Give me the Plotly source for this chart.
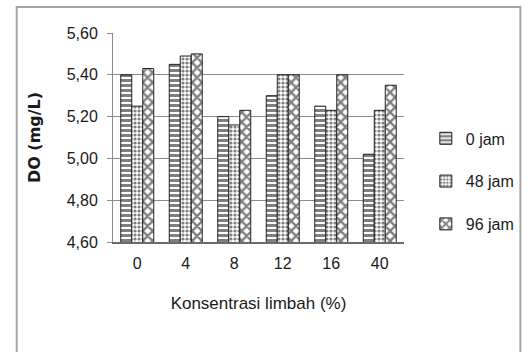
import plotly.graph_objects as go

# Dissolved oxygen per effluent concentration, measured at three times
categories = ["0", "4", "8", "12", "16", "40"]
series_names = ["0 jam", "48 jam", "96 jam"]
do_0_jam = [5.40, 5.45, 5.20, 5.30, 5.25, 5.02]
do_48_jam = [5.25, 5.49, 5.16, 5.40, 5.23, 5.23]
do_96_jam = [5.43, 5.50, 5.23, 5.40, 5.40, 5.35]
y_ticks = [4.60, 4.80, 5.00, 5.20, 5.40, 5.60]

series_values = [do_0_jam, do_48_jam, do_96_jam]
patterns = [
    dict(shape="-", size=5, solidity=0.6, fgcolor="#000000", bgcolor="#ffffff"),
    dict(shape=".", size=4, solidity=0.5, fgcolor="#000000", bgcolor="#ffffff"),
    dict(shape="x", size=7, solidity=0.55, fgcolor="#000000", bgcolor="#ffffff"),
]

TEXT_FONT = "Liberation Sans, Arial, sans-serif"

fig = go.Figure()
for name, vals, pat in zip(series_names, series_values, patterns):
    fig.add_trace(go.Bar(
        x=categories,
        y=vals,
        name=name,
        legendgroup=name,
        marker=dict(color="#ffffff", pattern=pat,
                    line=dict(color="#222222", width=1)),
    ))

fig.update_layout(
    width=532, height=352,
    margin=dict(l=113, r=111, t=33, b=110),
    paper_bgcolor="#ffffff", plot_bgcolor="#ffffff",
    barmode="group", bargap=0.32, bargroupgap=0.0,
    separators=",.",
    font=dict(family=TEXT_FONT, size=16, color="#1a1a1a"),
    showlegend=True,
    legend=dict(x=1.075, xanchor="left", y=0.29, yanchor="middle",
                font=dict(family=TEXT_FONT, size=16, color="#1a1a1a"),
                tracegroupgap=19, bgcolor="rgba(0,0,0,0)"),
    xaxis=dict(
        type="category", categoryorder="array", categoryarray=categories,
        showgrid=False, showline=True, linecolor="#6b6b6b", linewidth=2,
        ticks="", ticklabelstandoff=6,
        tickfont=dict(family=TEXT_FONT, size=16, color="#1a1a1a"),
        title=dict(text="Konsentrasi limbah (%)", standoff=26,
                   font=dict(family=TEXT_FONT, size=17, color="#1a1a1a")),
    ),
    yaxis=dict(
        range=[4.60, 5.60],
        tickvals=y_ticks,
        ticktext=[f"{t:.2f}".replace(".", ",") for t in y_ticks],
        showgrid=True, gridcolor="#8c8c8c", gridwidth=1,
        showline=True, linecolor="#8c8c8c", linewidth=1,
        ticks="outside", ticklen=5, tickcolor="#8c8c8c",
        ticklabelstandoff=6,
        zeroline=False,
        tickfont=dict(family=TEXT_FONT, size=16, color="#1a1a1a"),
        title=dict(text="<b>DO (mg/L)</b>", standoff=22,
                   font=dict(family="DejaVu Sans, sans-serif", size=16,
                             color="#1a1a1a")),
    ),
    shapes=[dict(type="rect", xref="paper", yref="paper",
                 x0=-0.331, x1=1.4, y0=-0.6, y1=1.124,
                 line=dict(color="#a6a6a6", width=2), layer="below")],
)

fig.write_html("out.html")
